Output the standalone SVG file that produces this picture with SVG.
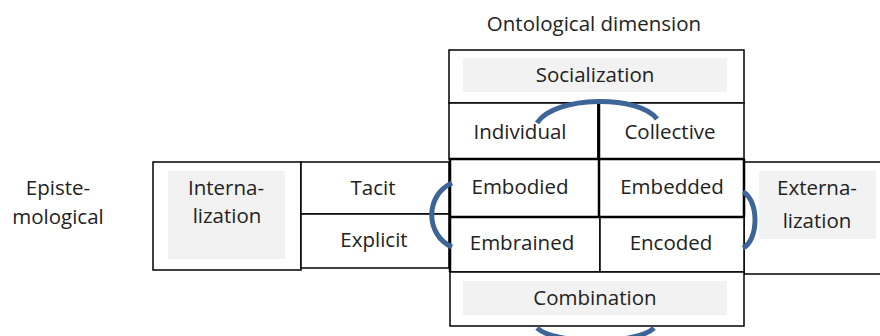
<svg xmlns="http://www.w3.org/2000/svg" width="880" height="336" viewBox="0 0 880 336">
<style>
.box{fill:#fff;stroke:#000;stroke-width:1.5}
.thick{fill:none;stroke:#000;stroke-width:2.5}
.shade{fill:#f2f2f2;stroke:none}
text{font-family:"Open Sans","DejaVu Sans",sans-serif;font-size:20.5px;fill:#222;text-anchor:middle}
.arc{fill:none;stroke:#3d6597;stroke-width:5}
</style>
<rect width="880" height="336" fill="#fff"/>
<g id="ontological"><text x="594" y="31">Ontological dimension</text></g>
<g id="epistemological"><text x="58" y="195">Episte-</text><text x="58" y="224">mological</text></g>
<g id="socialization"><rect class="box" x="449" y="50" width="295" height="53"/><rect class="shade" x="463" y="58" width="264" height="34"/><text x="595" y="82">Socialization</text></g>
<g id="individual"><rect class="box" x="449" y="103" width="149" height="56"/><text x="520" y="139">Individual</text></g>
<g id="collective"><rect class="box" x="598" y="103" width="146" height="56"/><text x="670" y="139">Collective</text></g>
<g id="internalization"><rect class="box" x="153" y="162" width="148" height="108"/><rect class="shade" x="168" y="171" width="117" height="88"/><text x="226" y="195">Interna-</text><text x="227" y="223">lization</text></g>
<g id="tacit"><rect class="box" x="301" y="162" width="148" height="52"/><text x="373" y="195">Tacit</text></g>
<g id="explicit"><rect class="box" x="301" y="214" width="148" height="54"/><text x="374" y="247">Explicit</text></g>
<g id="externalization"><rect class="box" x="744" y="162" width="140" height="112"/><rect class="shade" x="759" y="171" width="117" height="68"/><text x="817" y="195">Externa-</text><text x="817" y="228">lization</text></g>
<g id="embodied"><rect class="box" x="450" y="159" width="149" height="58"/><text x="520" y="194">Embodied</text></g>
<g id="embedded"><rect class="box" x="599" y="159" width="145" height="58"/><text x="672" y="194">Embedded</text></g>
<g id="embrained"><rect class="box" x="450" y="217" width="150" height="55"/><text x="522" y="250">Embrained</text></g>
<g id="encoded"><rect class="box" x="600" y="217" width="144" height="55"/><text x="671" y="250">Encoded</text></g>
<g id="combination"><rect class="box" x="450" y="272" width="294" height="54"/><rect class="shade" x="463" y="281" width="264" height="34"/><text x="595" y="305">Combination</text></g>
<g id="grid-lines"><path class="thick" d="M449 159H744M450 159V272M450 217H744M599 103V217M744 159V217"/></g>
<g id="connectors">
<path class="arc" d="M537 123C555 95 640 95 657 119"/>
<path class="arc" d="M452 183C425 195 425 235 452 247"/>
<path class="arc" d="M743 192C759 200 759 240 743 248"/>
<path class="arc" d="M537 328C555 345 637 345 654 328"/>
</g>
</svg>
